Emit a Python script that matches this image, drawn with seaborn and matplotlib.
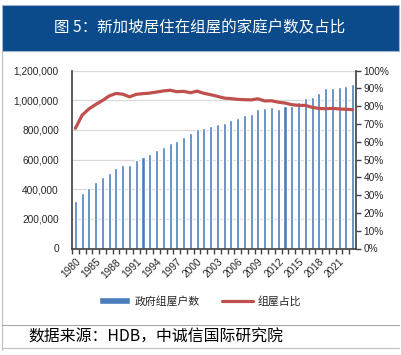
import numpy as np
import pandas as pd
import seaborn as sns
import matplotlib.pyplot as plt
from matplotlib.ticker import FuncFormatter, MultipleLocator

# HDB households and share living in public flats
years = ['1980', '1983', '1984'] + [str(y) for y in range(1985, 2024)]
households = [323000, 377000, 410000, 451000, 485000, 512000, 541000, 564000, 564000, 597000,
              616000, 636000, 663000, 683000, 712000, 726000, 753000, 778000, 807000, 810000,
              830000, 839000, 846000, 866000, 880000, 898000, 908000, 940000, 946000, 952000,
              942000, 964000, 962000, 987000, 1014000, 1023000, 1048000, 1081000, 1083000, 1091000,
              1096000, 1110000]
share = [67.6, 75.0, 78.5, 81.0, 83.2, 85.8, 87.2, 86.8, 85.3, 86.7,
         87.1, 87.4, 88.0, 88.6, 89.0, 88.2, 88.4, 87.6, 88.5, 87.3,
         86.5, 85.6, 84.6, 84.3, 83.9, 83.7, 83.6, 84.2, 83.0, 83.1,
         82.3, 81.8, 80.9, 80.5, 80.5, 79.4, 78.8, 78.6, 78.8, 78.5,
         78.3, 78.1]

bar_label = '政府组屋户数'
line_label = '组屋占比'
title = '图 5：新加坡居住在组屋的家庭户数及占比'
source = '数据来源：HDB，中诚信国际研究院'

df = pd.DataFrame({'year': years, 'households': households, 'share': share})
df['pos'] = range(len(df))

sns.set_style('white')
plt.rcParams['font.family'] = ['Liberation Sans', 'Noto Sans CJK SC']
cjk = ['Noto Sans CJK SC', 'DejaVu Sans']

fig = plt.figure(figsize=(4.02, 3.55), dpi=100)
W, H = 402, 355

# title bar
fig.patches.append(plt.Rectangle((2 / W, 1 - 51 / H), 397 / W, 46 / H, transform=fig.transFigure,
                                 facecolor='#0b4a8b', edgecolor='#9fb4cc', lw=0.8))
fig.text(200 / W, 1 - 28 / H, title, color='white', fontsize=11.2, family=cjk, ha='center', va='center')

# frame lines
fig.add_artist(plt.Line2D([2 / W, 2 / W], [1 - 51 / H, 1 - 350 / H], transform=fig.transFigure, color='#bfbfbf', lw=0.8))
fig.add_artist(plt.Line2D([2 / W, 399 / W], [1 - 325 / H, 1 - 325 / H], transform=fig.transFigure, color='#a6a6a6', lw=0.8))
fig.add_artist(plt.Line2D([2 / W, 399 / W], [1 - 348 / H, 1 - 348 / H], transform=fig.transFigure, color='#bfbfbf', lw=0.8))

ax = fig.add_axes([72 / W, 1 - 248.5 / H, 284 / W, 177.8 / H])
sns.barplot(data=df, x='pos', y='households', color='#4a7ebb', width=0.45, saturation=1, ax=ax, label=bar_label)
ax.set_ylim(0, 1200000)
ax.yaxis.set_major_locator(MultipleLocator(200000))
ax.yaxis.set_major_formatter(FuncFormatter(lambda v, p: f'{int(v):,}'))
ax.grid(axis='y', color='#d9d9d9', lw=0.9)
ax.set_axisbelow(True)
ax.set_xlabel('')
ax.set_ylabel('')

ax2 = ax.twinx()
sns.lineplot(data=df, x='pos', y='share', color='#c0504d', lw=2.3, ax=ax2, label=line_label, legend=False)
ax2.set_ylim(0, 100)
ax2.yaxis.set_major_locator(MultipleLocator(10))
ax2.yaxis.set_major_formatter(FuncFormatter(lambda v, p: f'{int(v)}%'))
ax2.set_ylabel('')
ax2.set_xlabel('')

ax.set_xlim(-0.5, len(years) - 0.5)
ax.set_xticks(df['pos'][::3])
ax.set_xticklabels(df['year'][::3], rotation=45, ha='right', rotation_mode='anchor')
ax.set_xticks(np.arange(len(years)) - 0.5, minor=True)

for a in (ax, ax2):
    for s in a.spines.values():
        s.set_visible(False)
ax.spines['left'].set_visible(True)
ax.spines['bottom'].set_visible(True)
ax2.spines['right'].set_visible(True)
for s in (ax.spines['left'], ax.spines['bottom'], ax2.spines['right']):
    s.set_color('#404040')
    s.set_linewidth(1.2)

ax.tick_params(axis='y', left=False, labelsize=7.3, colors='#262626', pad=6)
ax.tick_params(axis='x', which='major', length=0, labelsize=7.3, colors='#262626', pad=6)
ax.tick_params(axis='x', which='minor', bottom=True, length=3.5, width=1, color='#404040', direction='out')
ax2.tick_params(axis='y', right=True, length=3.5, width=1, color='#404040', labelsize=7.3,
                labelcolor='#262626', direction='out', pad=2)

# legend
h1, l1 = ax.get_legend_handles_labels()
h2, l2 = ax2.get_legend_handles_labels()
leg = fig.legend(h1 + h2, l1 + l2, loc='center', bbox_to_anchor=(200 / W, 1 - 301 / H), ncol=2,
                 frameon=False, prop={'family': cjk, 'size': 7.8}, handlelength=2.9, handleheight=0.5,
                 columnspacing=2.0, handletextpad=0.4)
if ax.get_legend() is not None:
    ax.get_legend().remove()

fig.text(28 / W, 1 - 337 / H, source, fontsize=11.4, family=cjk, ha='left', va='center', color='#000000')

fig.savefig('out.png', dpi=100)
